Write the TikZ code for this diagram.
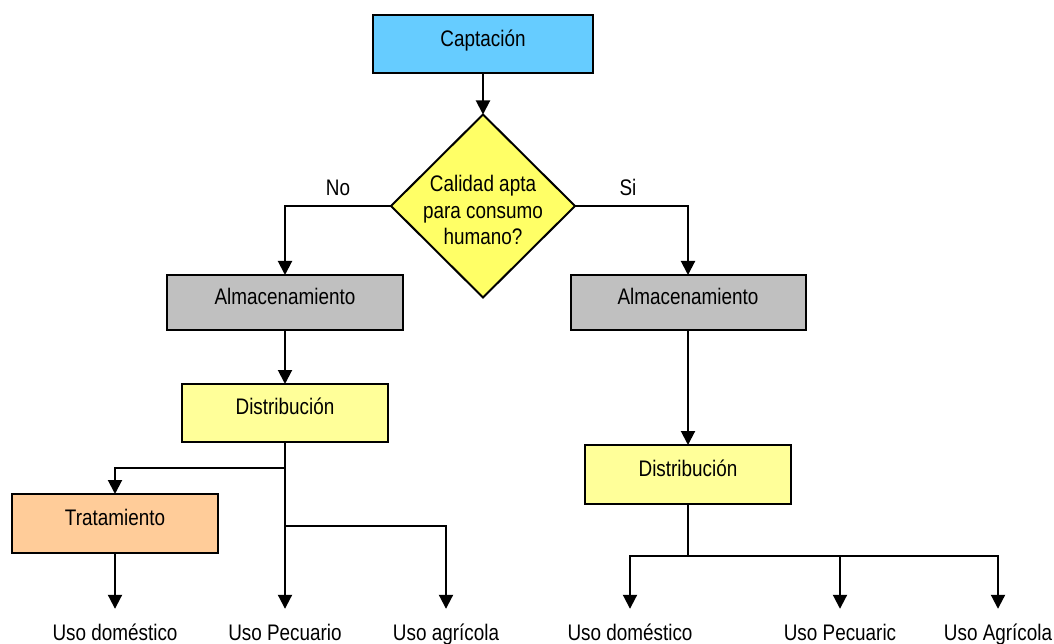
\documentclass[tikz,border=0pt]{standalone}
\usepackage{fontspec}
\setmainfont{Liberation Sans}[FakeStretch=0.84]
\usetikzlibrary{shapes.geometric,arrows.meta}

\definecolor{captBlue}{HTML}{66CCFF}
\definecolor{decYellow}{HTML}{FFFF66}
\definecolor{almGray}{HTML}{C0C0C0}
\definecolor{distYellow}{HTML}{FFFF99}
\definecolor{tratOrange}{HTML}{FFCC99}

\begin{document}
\begin{tikzpicture}[x=1pt,y=-1pt,
  font=\fontsize{22.5}{26.5}\selectfont,
  box/.style={draw=black, line width=2pt, rectangle, inner sep=0pt, outer sep=0pt,
              text height=16pt, text depth=13pt},
  conn/.style={line width=2pt},
  arr/.style={conn, -{Triangle[width=14pt,length=14pt]}},
  usolbl/.style={anchor=base, inner xsep=0pt, inner ysep=15pt, text height=16pt, text depth=4pt}]

\useasboundingbox (0,0) rectangle (1054,644);

% process boxes
\node[box, fill=captBlue, minimum width=220pt, minimum height=58pt, text depth=10pt] (capt) at (483,44) {Captación};
\node[draw=black, line width=2pt, diamond, fill=decYellow, minimum width=184pt, minimum height=183pt,
      inner sep=0pt, outer sep=0pt] (dec) at (483,206) {};
\node[align=center] (decTxt) at (483,210) {Calidad apta\\para consumo\\humano?};

\node[box, fill=almGray, minimum width=236pt, minimum height=55pt] (almL) at (285,302.5) {Almacenamiento};
\node[box, fill=almGray, minimum width=235pt, minimum height=55pt] (almR) at (688,302.5) {Almacenamiento};
\node[box, fill=distYellow, minimum width=206pt, minimum height=58pt] (distL) at (285,413) {Distribución};
\node[box, fill=distYellow, minimum width=206pt, minimum height=59pt] (distR) at (688,474.5) {Distribución};
\node[box, fill=tratOrange, minimum width=206pt, minimum height=59pt] (trat) at (115,523.5) {Tratamiento};

% branch labels of the decision
\node[anchor=base] (no) at (338,196) {No};
\node[anchor=base] (si) at (628,196) {Si};

% end uses
\node[usolbl] (usoDomL) at (115,640) {Uso doméstico};
\node[usolbl] (usoPecL) at (285,640) {Uso Pecuario};
\node[usolbl] (usoAgrL) at (446,640) {Uso agrícola};
\node[usolbl] (usoDomR) at (630,640) {Uso doméstico};
\node[usolbl] (usoPecR) at (840,640) {Uso Pecuaric};
\node[usolbl] (usoAgrR) at (998,640) {Uso Agrícola};

% junction points
\coordinate (jL1) at (285,468);
\coordinate (jL2) at (285,526);
\coordinate (jR) at (688,556);

% connectors
\draw[arr] (capt.south) -- (dec.north);
\draw[arr] (dec.west) -| (almL.north);
\draw[arr] (dec.east) -| (almR.north);
\draw[arr] (almL.south) -- (distL.north);
\draw[arr] (almR.south) -- (distR.north);

\draw[arr] (distL.south) -- (usoPecL.north);
\draw[arr] (jL1) -| (trat.north);
\draw[arr] (jL2) -| (usoAgrL.north);
\draw[arr] (trat.south) -- (usoDomL.north);

\draw[conn] (distR.south) -- (jR);
\draw[arr] (jR) -| (usoDomR.north);
\draw[arr] (jR) -| (usoPecR.north);
\draw[arr] (jR) -| (usoAgrR.north);
\end{tikzpicture}
\end{document}
